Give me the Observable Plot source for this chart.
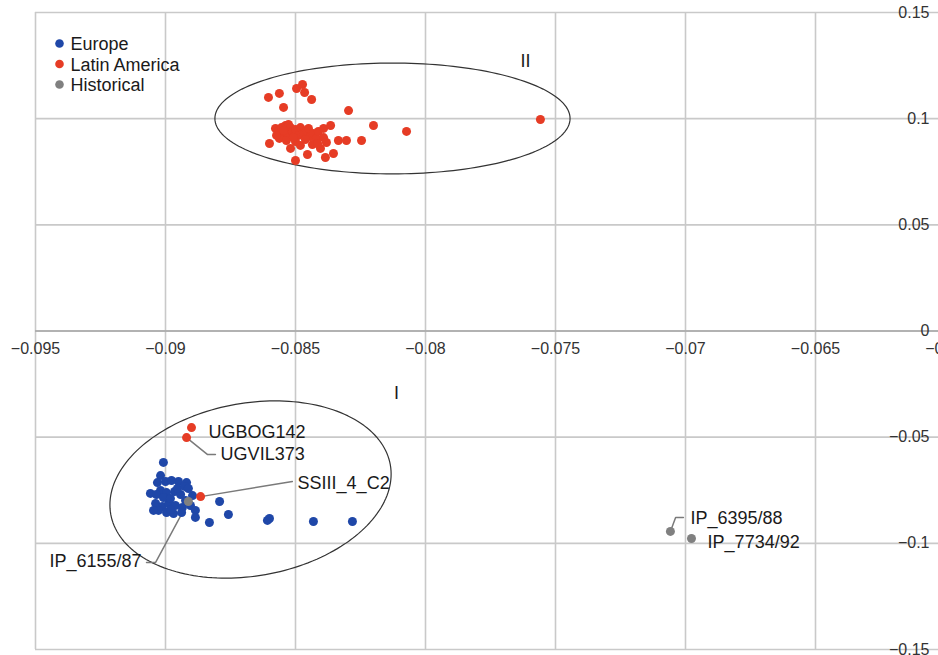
<!DOCTYPE html>
<html>
<head>
<meta charset="utf-8">
<script src="https://cdn.jsdelivr.net/npm/d3@7"></script>
<script src="https://cdn.jsdelivr.net/npm/@observablehq/plot@0.6"></script>
<style>
  html, body { margin: 0; padding: 0; background: #fff; }
  #wrap { width: 938px; height: 655px; overflow: hidden; position: relative; }
</style>
</head>
<body>
<div id="wrap"></div>
<script>
// ---------- data ----------
const xTicks = [-0.095, -0.09, -0.085, -0.08, -0.075, -0.07, -0.065, -0.06];
const xTickLabels = ["−0.095", "−0.09", "−0.085", "−0.08", "−0.075", "−0.07", "−0.065", "−0.06"];
const yTicks = [0.15, 0.1, 0.05, 0, -0.05, -0.1, -0.15];
const yTickLabels = ["0.15", "0.1", "0.05", "0", "−0.05", "−0.1", "−0.15"];

const groups = ["Europe", "Latin America", "Historical"];

const europeX = [-0.09008, -0.09019, -0.09031, -0.0900, -0.08977, -0.0895, -0.08919, -0.09019, -0.09058, -0.09035,
  -0.08996, -0.08965, -0.08942, -0.08896, -0.09038, -0.09012, -0.08988, -0.08962, -0.08935, -0.09027,
  -0.08996, -0.08969, -0.08923, -0.08904, -0.08885, -0.08885, -0.08792, -0.08758, -0.08831, -0.08608,
  -0.0860, -0.08431, -0.08281, -0.09008, -0.08981, -0.09046, -0.08954, -0.08927, -0.08912, -0.08938, -0.08981];
const europeY = [-0.0619, -0.0681, -0.0714, -0.0709, -0.0704, -0.0709, -0.0714, -0.0751, -0.0765, -0.0770,
  -0.0761, -0.0756, -0.0770, -0.0775, -0.0812, -0.0827, -0.0812, -0.0822, -0.0831, -0.0845,
  -0.0855, -0.0860, -0.0798, -0.0822, -0.0845, -0.0878, -0.0803, -0.0864, -0.0902, -0.0892,
  -0.0883, -0.0897, -0.0897, -0.0784, -0.0789, -0.0845, -0.0742, -0.0732, -0.0742, -0.0855, -0.0841];

const latinX = [-0.08604, -0.08562, -0.08546, -0.08496, -0.08473, -0.08465, -0.08438, -0.08296, -0.0820, -0.08073,
  -0.07558, -0.0860, -0.08577, -0.08565, -0.08554, -0.08538, -0.08527, -0.08519, -0.08542, -0.08527,
  -0.08512, -0.0850, -0.08488, -0.08481, -0.08469, -0.08458, -0.0845, -0.08442, -0.08431, -0.08419,
  -0.08412, -0.08392, -0.08365, -0.08392, -0.08381, -0.08335, -0.08304, -0.08246, -0.08519, -0.0850,
  -0.08481, -0.08454, -0.08435, -0.08404, -0.08385, -0.08354, -0.0850, -0.08562, -0.08535, -0.08573,
  -0.08546, -0.08508, -0.08462, -0.08415];
const latinY = [0.1100, 0.1119, 0.1053, 0.1142, 0.1161, 0.1123, 0.1090, 0.1038, 0.0968, 0.0940,
  0.0996, 0.0883, 0.0954, 0.0940, 0.0958, 0.0968, 0.0973, 0.0958, 0.0930, 0.0921,
  0.0940, 0.0949, 0.0921, 0.0958, 0.0930, 0.0944, 0.0954, 0.0916, 0.0930, 0.0907,
  0.0940, 0.0954, 0.0968, 0.0911, 0.0888, 0.0897, 0.0897, 0.0897, 0.0860, 0.0892,
  0.0874, 0.0831, 0.0878, 0.0860, 0.0817, 0.0836, 0.0803, 0.0907, 0.0897, 0.0921,
  0.0944, 0.0911, 0.0902, 0.0883];

// labelled samples
const labelNames = ["UGBOG142", "UGVIL373", "SSIII_4_C2", "IP_6155/87", "IP_6395/88", "IP_7734/92"];
const labelGroups = ["Latin America", "Latin America", "Latin America", "Historical", "Historical", "Historical"];
const labelX = [-0.0890, -0.08919, -0.08865, -0.08912, -0.07058, -0.06977];
const labelY = [-0.0455, -0.0502, -0.0780, -0.0803, -0.0944, -0.0977];
// text anchor positions of the annotations
const textX = [-0.08835, -0.08788, -0.08492, -0.09092, -0.06981, -0.06915];
const textY = [-0.0475, -0.0580, -0.0716, -0.1084, -0.0882, -0.0994];
const textAnchors = ["start", "start", "start", "end", "start", "start"];
// leader lines (polylines) : label index, x, y
const leaderIds = [1, 1, 1, 2, 2, 3, 3, 3, 4, 4, 4];
const leaderX = [-0.08919, -0.08838, -0.08808, -0.08865, -0.08512, -0.08912, -0.09038, -0.09073, -0.07058, -0.07038, -0.07008];
const leaderY = [-0.0502, -0.0582, -0.0582, -0.0780, -0.0709, -0.0803, -0.1090, -0.1090, -0.0944, -0.0878, -0.0878];

// cluster ellipses: centre, semi-axes (data units), tilt (degrees), label & label position
const ellipseNames = ["I", "II"];
const ellipseCX = [-0.08673, -0.08127];
const ellipseCY = [-0.07465, 0.1001];
const ellipseA = [0.00546, 0.00683];
const ellipseB = [0.0407, 0.0261];
const ellipseTilt = [10, 0];
const ellipseLabelX = [-0.08112, -0.07615];
const ellipseLabelY = [-0.0294, 0.1269];

// ---------- layout ----------
const W = 938, H = 655, ML = 35, MR = -7, MT = 12, MB = 6;
const xDomain = [-0.095, -0.06], yDomain = [-0.15, 0.15];
const kx = (W - ML - MR) / (xDomain[1] - xDomain[0]);
const ky = (H - MT - MB) / (yDomain[1] - yDomain[0]);

const colors = {"Europe": "#1f47a8", "Latin America": "#e63c25", "Historical": "#808080"};
const FONT = "'Liberation Sans', Arial, Helvetica, sans-serif";

const europe = europeX.map((x, i) => ({x, y: europeY[i]}));
const latin = latinX.map((x, i) => ({x, y: latinY[i]}));
const labelled = labelNames.map((name, i) => ({name, group: labelGroups[i], x: labelX[i], y: labelY[i],
  tx: textX[i], ty: textY[i], anchor: textAnchors[i]}));
const leaders = leaderIds.map((id, i) => ({id, x: leaderX[i], y: leaderY[i]}));

// ellipse outlines built in screen-proportional space from the parameters
const ellipsePts = [];
ellipseNames.forEach((name, e) => {
  const a = ellipseA[e] * kx, b = ellipseB[e] * ky, th = ellipseTilt[e] * Math.PI / 180;
  for (let k = 0; k <= 180; k++) {
    const t = 2 * Math.PI * k / 180;
    const u = a * Math.cos(t), v = b * Math.sin(t);
    const dx = u * Math.cos(th) - v * Math.sin(th);
    const dy = u * Math.sin(th) + v * Math.cos(th);
    ellipsePts.push({name, x: ellipseCX[e] + dx / kx, y: ellipseCY[e] + dy / ky});
  }
});
const ellipseLabels = ellipseNames.map((name, i) => ({name, x: ellipseLabelX[i], y: ellipseLabelY[i]}));

const legendMarks = groups.flatMap((g, i) => [
  Plot.dot([g], {frameAnchor: "top-left", dx: 24, dy: 31 + i * 20.5, r: 4.3, fill: colors[g], stroke: "none"}),
  Plot.text([g], {frameAnchor: "top-left", dx: 35, dy: 32 + i * 20.5, text: d => d, textAnchor: "start",
    lineAnchor: "middle", fontSize: 18, fill: "#1a1a1a"})
]);

const chart = Plot.plot({
  width: W, height: H,
  marginLeft: ML, marginRight: MR, marginTop: MT, marginBottom: MB,
  x: {domain: xDomain, axis: null},
  y: {domain: yDomain, axis: null},
  style: {fontFamily: FONT, fontSize: "16px", background: "#fff", overflow: "hidden"},
  marks: [
    Plot.ruleX(xTicks, {x: d => d, stroke: "#c9c9c9", strokeWidth: 1.6}),
    Plot.ruleY(yTicks, {y: d => d, stroke: "#c9c9c9", strokeWidth: 1.6}),
    Plot.ruleY([0], {y: d => d, stroke: "#a6a6a6", strokeWidth: 1.6}),
    Plot.text(xTicks, {x: d => d, y: () => 0, dy: 18, text: (d, i) => xTickLabels[i], fill: "#333", fontSize: 16, lineAnchor: "middle"}),
    Plot.text(yTicks, {x: () => xDomain[1], y: d => d, dx: -16, text: (d, i) => yTickLabels[i], textAnchor: "end", fill: "#333", fontSize: 16, lineAnchor: "middle"}),
    Plot.line(ellipsePts, {x: "x", y: "y", z: "name", stroke: "#333", strokeWidth: 1.2, curve: "linear"}),
    Plot.text(ellipseLabels, {x: "x", y: "y", text: "name", fontSize: 18, fill: "#1a1a1a", lineAnchor: "middle"}),
    Plot.line(leaders, {x: "x", y: "y", z: "id", stroke: "#7a7a7a", strokeWidth: 1.5, curve: "linear"}),
    Plot.dot(europe, {x: "x", y: "y", r: 4.5, fill: colors["Europe"], stroke: "none"}),
    Plot.dot(latin, {x: "x", y: "y", r: 4.5, fill: colors["Latin America"], stroke: "none"}),
    Plot.dot(labelled, {x: "x", y: "y", r: 4.5, fill: d => colors[d.group], stroke: "none"}),
    Plot.text(labelled.filter(d => d.anchor === "start"), {x: "tx", y: "ty", text: "name", textAnchor: "start", fontSize: 18, fill: "#1a1a1a", lineAnchor: "middle"}),
    Plot.text(labelled.filter(d => d.anchor === "end"), {x: "tx", y: "ty", text: "name", textAnchor: "end", fontSize: 18, fill: "#1a1a1a", lineAnchor: "middle"}),
    ...legendMarks
  ]
});
document.getElementById("wrap").appendChild(chart);
</script>
</body>
</html>
